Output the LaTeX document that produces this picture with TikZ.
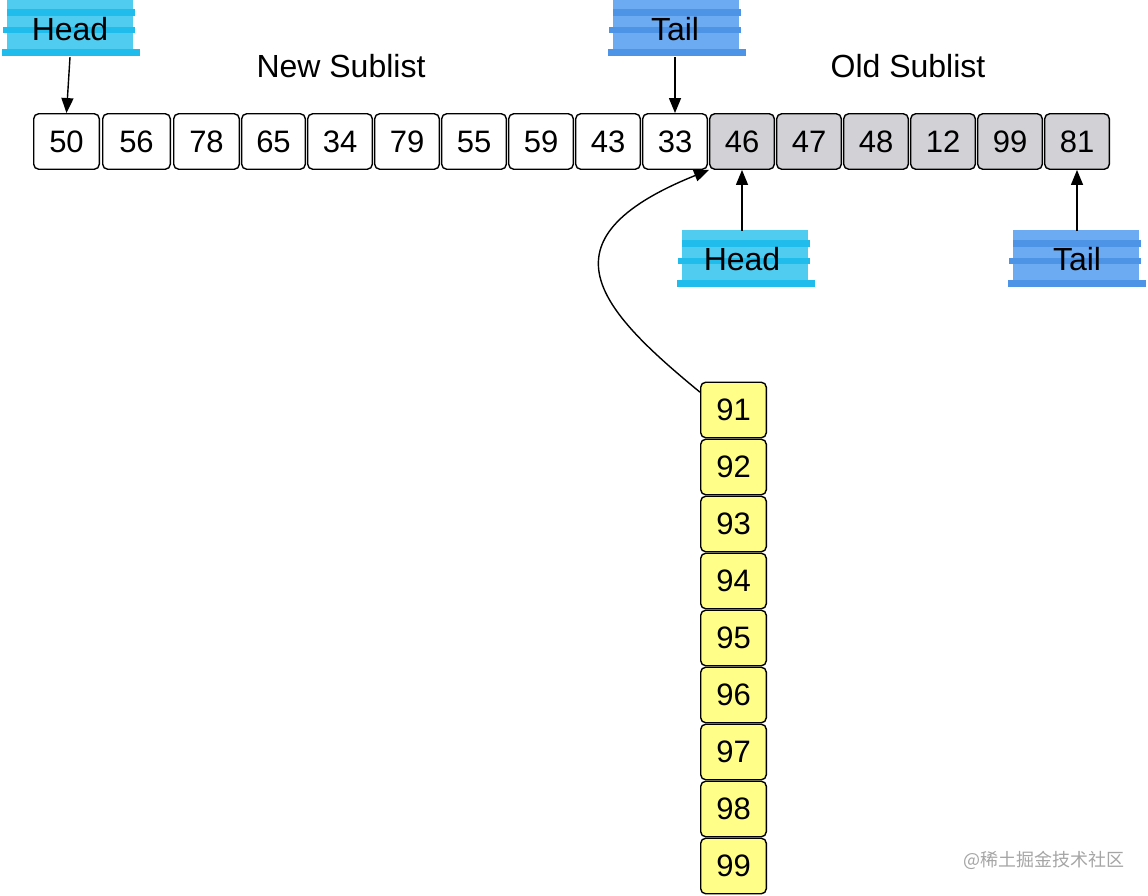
\documentclass[tikz,border=0pt]{standalone}
\usepackage{fontspec}
\setmainfont{Liberation Sans}
\newfontfamily\cjk{Noto Sans CJK SC}
\usetikzlibrary{arrows.meta}
\definecolor{headL}{RGB}{80,204,240}
\definecolor{headD}{RGB}{32,188,235}
\definecolor{tailL}{RGB}{108,170,241}
\definecolor{tailD}{RGB}{78,148,230}
\definecolor{oldgray}{RGB}{210,209,214}
\definecolor{yel}{RGB}{255,254,136}
\definecolor{wm}{RGB}{165,165,165}
\newcommand\marker[4]{%
  \fill[#3] ({#1-63},{#2-29}) rectangle ({#1+63},{#2+27});
  \fill[#4] ({#1-63},{#2-19}) rectangle ({#1+65},{#2-12});
  \fill[#4] ({#1-67},{#2-1}) rectangle ({#1+65},{#2+5});
  \fill[#4] ({#1-68},{#2+21}) rectangle ({#1+70},{#2+28});
}
\begin{document}
\begin{tikzpicture}[x=1pt,y=-1pt,
  big/.style={font=\fontsize{32}{38}\selectfont},
  cell/.style={draw, rounded corners=5pt, line width=1.4pt,
    minimum height=55.5pt, inner sep=0pt, font=\fontsize{31}{36}\selectfont},
  tag/.style={big, minimum width=130pt, minimum height=56pt, inner sep=0pt},
  arr/.style={line width=1.4pt, -{Triangle[length=15pt,width=12pt]}}]
\useasboundingbox (0,0) rectangle (1148,896);

% markers
\marker{70}{28}{headL}{headD}
\marker{676}{28}{tailL}{tailD}
\marker{745}{259}{headL}{headD}
\marker{1076}{259}{tailL}{tailD}

% top row
\foreach \v/\l/\r [count=\i from 0] in {50/33/100,56/102/171,78/173/240,65/241/306,34/307/373,79/374/440,55/441/507,59/508/574,43/575/641,33/642/708}
  \node[cell, fill=white, minimum width={\r-\l-1.4}] (b\i) at ({(\l+\r)/2},141.5) {\v};
\foreach \v/\l/\r [count=\i from 10] in {46/709/775,47/776/842,48/843/909,12/910/976,99/977/1043,81/1044/1110}
  \node[cell, fill=oldgray, minimum width={\r-\l-1.4}] (b\i) at ({(\l+\r)/2},141.5) {\v};

% column
\foreach \v [count=\i from 0] in {91,92,93,94,95,96,97,98,99}
  \node[cell, fill=yel, minimum width=65.6pt] (c\i) at (733.5,{410+57*\i}) {\v};

% labels
\node[tag] (headA) at (70,29) {Head};
\node[tag] (tailA) at (675,29) {Tail};
\node[tag] (headB) at (742,259) {Head};
\node[tag] (tailB) at (1077,259) {Tail};
\node[big] (newsub) at (341,66) {New Sublist};
\node[big] (oldsub) at (908,66) {Old Sublist};

% arrows
\draw[arr] (headA.south) -- (b0.north);
\draw[arr] (tailA.south) -- (b9.north);
\draw[arr] (headB.north) -- (b10.south);
\draw[arr] (tailB.north) -- (b15.south);
\draw[arr] (c0.152) .. controls (600,310) and (535,240) .. (b10.south west);

% watermark
\node[text=wm, font=\cjk\fontsize{18}{21}\selectfont] (wmark) at (1044,860) {@稀土掘金技术社区};
\end{tikzpicture}
\end{document}
